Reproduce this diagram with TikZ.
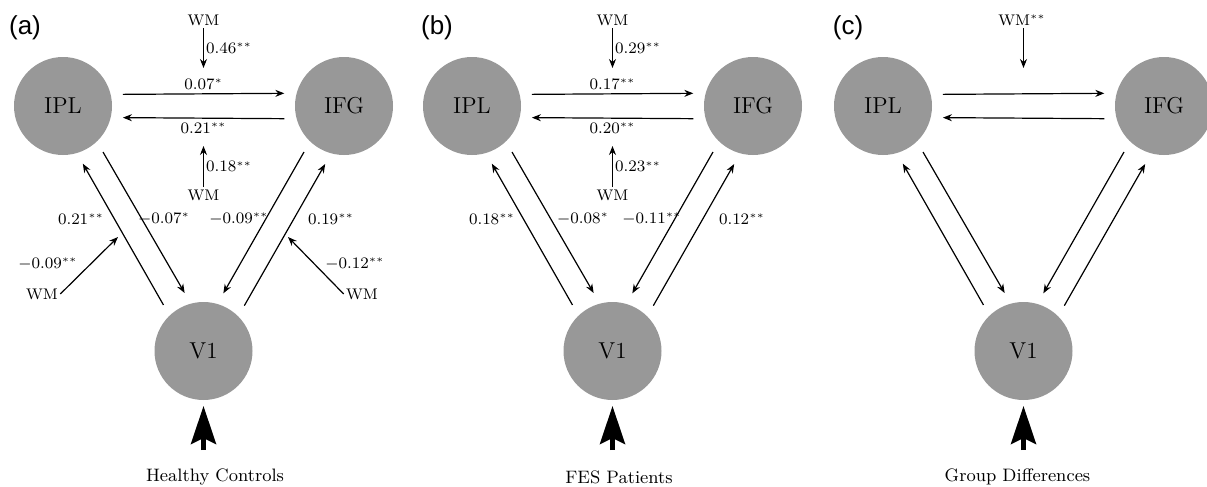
\documentclass[tikz,border=0pt]{standalone}
\usepackage{fontspec}
\newfontfamily\panelfont{Liberation Sans}
\usepackage{tikz}
\usetikzlibrary{arrows.meta,positioning,calc}
\definecolor{regiongray}{RGB}{152,152,152}
\tikzstyle{region} = [circle, fill=regiongray, minimum size=49pt, inner sep=0pt,
    outer sep=6pt, font=\fontsize{11.5}{13}\selectfont, node distance=140.5pt, on grid]
\tikzstyle{coef}  = [inner sep=1pt, font=\fontsize{7.7}{9}\selectfont]
\tikzstyle{panel} = [font=\panelfont\fontsize{13}{15}\selectfont]
\tikzstyle{group} = [font=\fontsize{9}{11}\selectfont]
\tikzstyle{line}  = [draw, line width=0.6pt, -{Stealth[length=4.5pt,width=3.5pt]}]
\tikzstyle{input} = [draw, line width=2.5pt, -{Stealth[length=19pt,width=12.5pt,inset=3pt]}]

\begin{document}
\begin{tikzpicture}[x=0.5pt,y=-0.5pt]
    \useasboundingbox (0,0) rectangle (1207,487);

    % Place nodes: (a) healthy controls
    \node [panel] (tagA) at (25,28) {(a)};
    \node [region] (IPLa) at (63,106) {IPL};
    \node [region, right=of IPLa] (IFGa) {IFG};
    \node [region, below right=122.5pt and 70.25pt of IPLa] (V1a) {V1};
    \node [coef] (wmTa) at (203.5,20) {WM};  \coordinate (tipTa) at (203.5,68);
    \node [coef] (wmBa) at (203.5,195) {WM}; \coordinate (tipBa) at (203.5,146);
    \node [coef] (wmLa) at (42,294) {WM};    \coordinate (tipLa) at (118,237);
    \node [coef] (wmRa) at (362,294) {WM};   \coordinate (tipRa) at (288,237);
    \node [coef] (c4a) at (81,219)  {$0.21^{**}$};
    \node [coef] (c5a) at (164,219) {$-0.07^{*}$};
    \node [coef] (c6a) at (239,219) {$-0.09^{**}$};
    \node [coef] (c7a) at (331,219) {$0.19^{**}$};
    \node [coef] (c8a) at (48,264)  {$-0.09^{**}$};
    \node [coef] (c9a) at (355,264) {$-0.12^{**}$};
    \coordinate (inA) at (203.5,450);
    \node [group] (grpA) at (215,477) {Healthy Controls};

    \path [line] (IPLa.11.3) -- node [coef, above=1pt] (c1a) {$0.07^{*}$} (IFGa.168.7);
    \path [line] (IFGa.-168.7) -- node [coef, below=1pt] (c2a) {$0.21^{**}$} (IPLa.-11.3);
    \path [line] (V1a.131.4) -- (IPLa.-71.6);
    \path [line] (IPLa.-49) -- (V1a.108.4);
    \path [line] (IFGa.-131.2) -- (V1a.71.6);
    \path [line] (V1a.48.4) -- (IFGa.-108.4);
    \path [line] (wmTa) -- node [coef, right] (c3a) {$0.46^{**}$} (tipTa);
    \path [line] (wmBa) -- node [coef, right] (c10a) {$0.18^{**}$} (tipBa);
    \path [line] (wmLa.east) -- (tipLa);
    \path [line] (wmRa.west) -- (tipRa);
    \path [input] (inA) -- ([yshift=3pt]V1a.south);

    % Place nodes: (b) FES patients
    \node [panel] (tagB) at (437,28) {(b)};
    \node [region] (IPLb) at (472,106) {IPL};
    \node [region, right=of IPLb] (IFGb) {IFG};
    \node [region, below right=122.5pt and 70.25pt of IPLb] (V1b) {V1};
    \node [coef] (wmTb) at (612.5,20) {WM};  \coordinate (tipTb) at (612.5,68);
    \node [coef] (wmBb) at (612.5,195) {WM}; \coordinate (tipBb) at (612.5,146);
    \node [coef] (c4b) at (492,219) {$0.18^{**}$};
    \node [coef] (c5b) at (583,219) {$-0.08^{*}$};
    \node [coef] (c6b) at (652,219) {$-0.11^{**}$};
    \node [coef] (c7b) at (742,219) {$0.12^{**}$};
    \coordinate (inB) at (612.5,450);
    \node [group] (grpB) at (619,477) {FES Patients};

    \path [line] (IPLb.11.3) -- node [coef, above=1pt] (c1b) {$0.17^{**}$} (IFGb.168.7);
    \path [line] (IFGb.-168.7) -- node [coef, below=1pt] (c2b) {$0.20^{**}$} (IPLb.-11.3);
    \path [line] (V1b.131.4) -- (IPLb.-71.6);
    \path [line] (IPLb.-49) -- (V1b.108.4);
    \path [line] (IFGb.-131.2) -- (V1b.71.6);
    \path [line] (V1b.48.4) -- (IFGb.-108.4);
    \path [line] (wmTb) -- node [coef, right] (c3b) {$0.29^{**}$} (tipTb);
    \path [line] (wmBb) -- node [coef, right] (c10b) {$0.23^{**}$} (tipBb);
    \path [input] (inB) -- ([yshift=3pt]V1b.south);

    % Place nodes: (c) group differences
    \node [panel] (tagC) at (848,28) {(c)};
    \node [region] (IPLc) at (883,106) {IPL};
    \node [region, right=of IPLc] (IFGc) {IFG};
    \node [region, below right=122.5pt and 70.25pt of IPLc] (V1c) {V1};
    \node [coef] (wmTc) at (1022,20) {WM$^{**}$}; \coordinate (tipTc) at (1023.5,68);
    \coordinate (inC) at (1023.5,450);
    \node [group] (grpC) at (1017.5,477) {Group Differences};

    \path [line] (IPLc.11.3) -- (IFGc.168.7);
    \path [line] (IFGc.-168.7) -- (IPLc.-11.3);
    \path [line] (V1c.131.4) -- (IPLc.-71.6);
    \path [line] (IPLc.-49) -- (V1c.108.4);
    \path [line] (IFGc.-131.2) -- (V1c.71.6);
    \path [line] (V1c.48.4) -- (IFGc.-108.4);
    \path [line] (wmTc.south -| tipTc) -- (tipTc);
    \path [input] (inC) -- ([yshift=3pt]V1c.south);
\end{tikzpicture}
\end{document}
